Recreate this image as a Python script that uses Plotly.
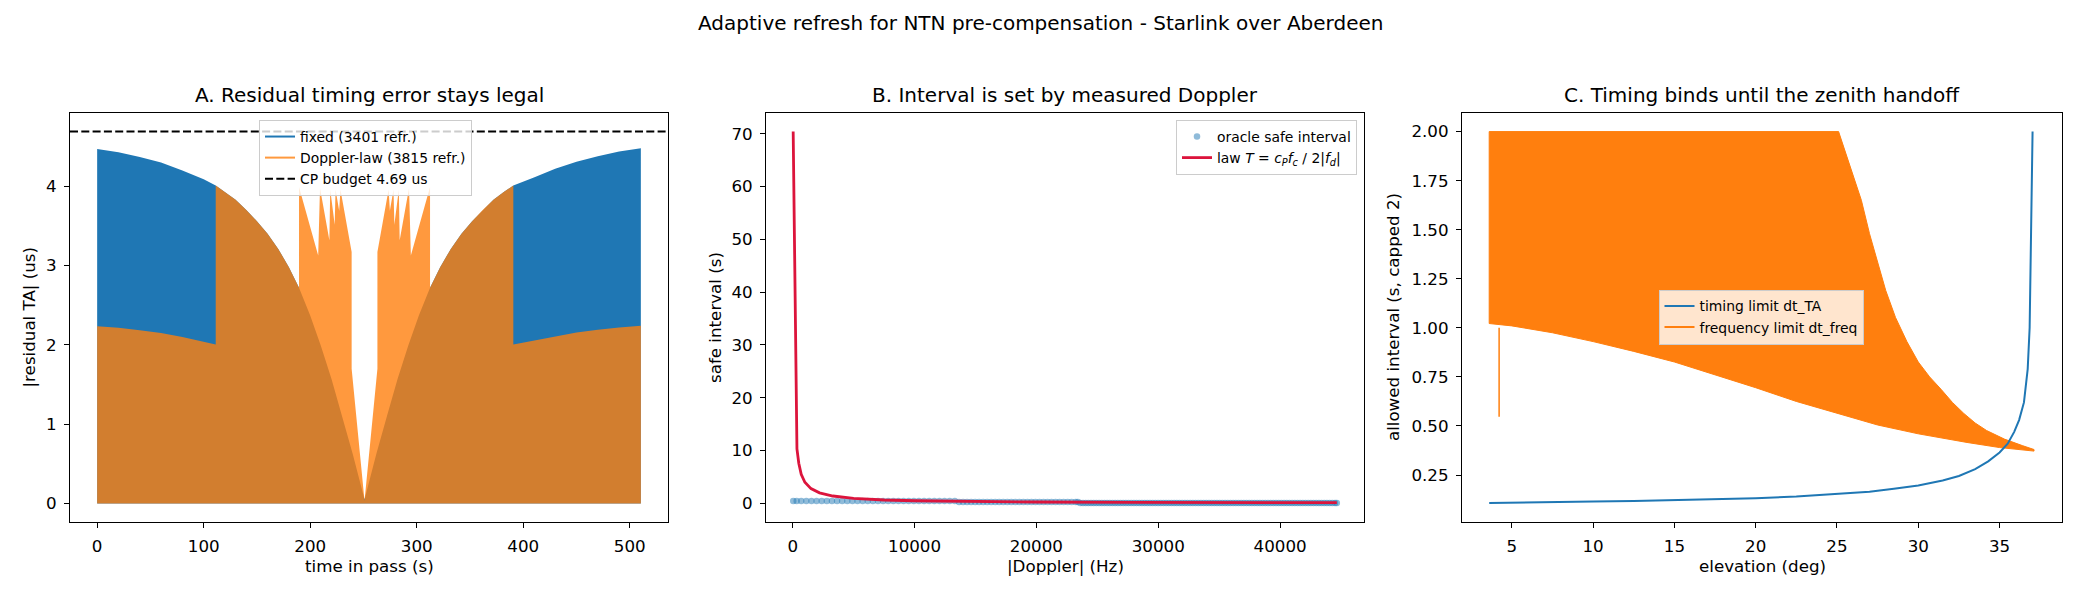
import plotly.graph_objects as go

FONT = "DejaVu Sans"
W, H = 2080, 598

# ---------------- Panel A data ----------------
# upper envelope of the fixed-interval residual sawtooth (us)
t_fixed = [0, 20, 40, 60, 80, 100, 111.3, 120, 130, 140, 150, 160, 170, 180, 189.5,
           200, 210, 220, 230, 240, 251, 262, 272, 282, 292, 302, 312.5, 322, 332,
           342, 352, 362, 372, 382, 390.7, 410, 430, 450, 470, 490, 510.4]
fixed_env = [4.47, 4.43, 4.37, 4.30, 4.20, 4.09, 4.01, 3.93, 3.83, 3.70, 3.56, 3.40,
             3.21, 2.98, 2.72, 2.37, 1.99, 1.57, 1.10, 0.62, 0.05, 0.62, 1.10, 1.57,
             1.99, 2.37, 2.72, 2.98, 3.21, 3.40, 3.56, 3.70, 3.83, 3.93, 4.01, 4.11,
             4.22, 4.31, 4.38, 4.44, 4.48]
# upper envelope of the Doppler-law residual sawtooth (us)
t_law = [0, 20, 40, 60, 80, 100, 111.3, 111.3, 120, 130, 140, 150, 160, 170, 180,
         189.5, 189.5, 207.5, 209.2, 218.0, 218.8, 223.0, 223.8, 227.2, 228.4, 238.9,
         238.9, 251, 263.1, 263.1, 273.6, 274.8, 278.2, 279.0, 283.2, 284.0, 292.8,
         294.5, 312.5, 312.5, 322, 332, 342, 352, 362, 372, 382, 390.7, 390.7, 410,
         430, 450, 470, 490, 510.4]
law_env = [2.235, 2.215, 2.185, 2.15, 2.10, 2.045, 2.005, 4.01, 3.93, 3.83, 3.70, 3.56,
           3.40, 3.21, 2.98, 2.72, 3.99, 3.126, 3.98, 3.32, 3.96, 3.515, 3.96, 3.69,
           3.96, 3.17, 1.70, 0.035, 1.70, 3.17, 3.96, 3.69, 3.96, 3.515, 3.96, 3.32,
           3.98, 3.126, 3.99, 2.72, 2.98, 3.21, 3.40, 3.56, 3.70, 3.83, 3.93, 4.01,
           2.005, 2.055, 2.11, 2.155, 2.19, 2.22, 2.24]
cp_budget = 4.69
n_fixed_refr = 3401
n_law_refr = 3815

# ---------------- Panel B data ----------------
dop_low = [45, 330, 700, 1120, 1540, 1960, 2380, 2800, 3220, 3640, 4060, 4480, 4900,
           5320, 5740, 6160, 6580, 7000, 7420, 7840, 8260, 8680, 9100, 9520, 9940,
           10360, 10780, 11200, 11620, 12040, 12460, 12880, 13300]
dop_mid = [13650, 13980, 14310, 14640, 14970, 15300, 15630, 15960, 16290, 16620, 16950,
           17280, 17610, 17940, 18270, 18600, 18930, 19260, 19590, 19920, 20250, 20580,
           20910, 21240, 21570, 21900, 22230, 22560, 22890, 23220, 23400]
dop_high = [23600, 23820, 24040, 24260, 24480, 24700, 24920, 25140, 25360, 25580, 25800,
            26020, 26240, 26460, 26680, 26900, 27120, 27340, 27560, 27780, 28000, 28220,
            28440, 28660, 28880, 29100, 29320, 29540, 29760, 29980, 30200, 30420, 30640,
            30860, 31080, 31300, 31520, 31740, 31960, 32180, 32400, 32620, 32840, 33060,
            33280, 33500, 33720, 33940, 34160, 34380, 34600, 34820, 35040, 35260, 35480,
            35700, 35920, 36140, 36360, 36580, 36800, 37020, 37240, 37460, 37680, 37900,
            38120, 38340, 38560, 38780, 39000, 39220, 39440, 39660, 39880, 40100, 40320,
            40540, 40760, 40980, 41200, 41420, 41640, 41860, 42080, 42300, 42520, 42740,
            42960, 43180, 43400, 43620, 43840, 44060, 44280, 44500, 44650]
oracle_low, oracle_mid, oracle_high = 0.45, 0.25, 0.10
law_fd = [40, 350, 500, 700, 1000, 1500, 2200, 3300, 5000, 7500, 10000, 14000,
          20000, 28000, 36000, 44650]
law_T = [70.4, 10.3, 7.6, 5.5, 4.0, 2.8, 2.0, 1.4, 0.95, 0.65, 0.5, 0.37,
         0.27, 0.2, 0.16, 0.13]

# ---------------- Panel C data ----------------
elev_ta = [3.61, 5, 7.5, 10, 12.5, 15, 17.5, 20, 22.5, 25, 27, 28.5, 30, 31.5, 32.5,
           33.5, 34.3, 35.0, 35.5, 35.9, 36.2, 36.5, 36.73, 36.85, 36.95, 37.03]
dt_ta = [0.107, 0.108, 0.111, 0.115, 0.118, 0.122, 0.127, 0.132, 0.140, 0.152, 0.165,
         0.180, 0.197, 0.222, 0.245, 0.28, 0.32, 0.365, 0.41, 0.47, 0.53, 0.62, 0.79,
         1.0, 1.45, 2.0]
# dt_freq oscillates between two envelopes (capped at 2)
elev_freq_hi = [3.61, 3.61, 25.1, 25.5, 26.0, 26.5, 27.0, 27.5, 28.0, 28.6, 29.3, 30.0,
                30.7, 31.4, 32.1, 32.8, 33.5, 34.2, 35.3, 36.4, 37.12]
freq_hi = [1.022, 2.0, 2.0, 1.90, 1.78, 1.65, 1.48, 1.33, 1.19, 1.053, 0.93, 0.826,
           0.75, 0.687, 0.62, 0.564, 0.515, 0.477, 0.433, 0.40, 0.38]
elev_freq_lo = [37.12, 35, 33, 30, 27.5, 25, 22.5, 20, 17.5, 15, 12.5, 10, 7.5, 5, 3.61]
freq_lo = [0.372, 0.39, 0.416, 0.46, 0.505, 0.564, 0.625, 0.695, 0.76, 0.826, 0.88,
           0.93, 0.975, 1.01, 1.022]
glitch_elev = [4.22, 4.22]
glitch_val = [1.0, 0.547]

BLUE = "#1f77b4"
ORANGE = "#ff7f0e"

fig = go.Figure()

# Panel A
fig.add_trace(go.Scatter(x=t_fixed, y=fixed_env, mode="lines", line=dict(width=0),
                         fill="tozeroy", fillcolor=BLUE, showlegend=False,
                         hoverinfo="skip", xaxis="x", yaxis="y"))
fig.add_trace(go.Scatter(x=t_law, y=law_env, mode="lines", line=dict(width=0),
                         fill="tozeroy", fillcolor="rgba(255,127,14,0.8)", showlegend=False,
                         hoverinfo="skip", xaxis="x", yaxis="y"))
fig.add_trace(go.Scatter(x=[None], y=[None], mode="lines", line=dict(color=BLUE, width=2),
                         name=f"fixed ({n_fixed_refr} refr.)", legend="legend",
                         xaxis="x", yaxis="y"))
fig.add_trace(go.Scatter(x=[None], y=[None], mode="lines",
                         line=dict(color="rgba(255,127,14,0.8)", width=2),
                         name=f"Doppler-law ({n_law_refr} refr.)", legend="legend",
                         xaxis="x", yaxis="y"))
fig.add_trace(go.Scatter(x=[None], y=[None], mode="lines",
                         line=dict(color="black", width=2, dash="8px,3.3px"),
                         name=f"CP budget {cp_budget} us", legend="legend",
                         xaxis="x", yaxis="y"))

# Panel B
for i, (xs, lev) in enumerate([(dop_low, oracle_low), (dop_mid, oracle_mid), (dop_high, oracle_high)]):
    fig.add_trace(go.Scatter(x=xs, y=[lev] * len(xs), mode="markers",
                             marker=dict(color=BLUE, size=6.5, opacity=0.5, line=dict(width=0)),
                             name="oracle safe interval", showlegend=(i == 0),
                             legend="legend2", xaxis="x2", yaxis="y2", hoverinfo="skip"))
fig.add_trace(go.Scatter(x=law_fd, y=law_T, mode="lines", line=dict(color="crimson", width=2.8),
                         name="law <i>T</i> = <i>c<sub>P</sub>f<sub>c</sub></i> / 2|<i>f<sub>d</sub></i>|",
                         legend="legend2", xaxis="x2", yaxis="y2"))

# Panel C
fig.add_trace(go.Scatter(x=elev_freq_hi + elev_freq_lo, y=freq_hi + freq_lo, mode="lines",
                         line=dict(width=1, color=ORANGE), fill="toself", fillcolor=ORANGE,
                         showlegend=False, hoverinfo="skip", xaxis="x3", yaxis="y3"))
fig.add_trace(go.Scatter(x=glitch_elev, y=glitch_val, mode="lines",
                         line=dict(width=1.5, color=ORANGE), showlegend=False,
                         hoverinfo="skip", xaxis="x3", yaxis="y3"))
fig.add_trace(go.Scatter(x=elev_ta, y=dt_ta, mode="lines", line=dict(color=BLUE, width=2),
                         name="timing limit dt_TA", legend="legend3", xaxis="x3", yaxis="y3"))
fig.add_trace(go.Scatter(x=[None], y=[None], mode="lines", line=dict(color=ORANGE, width=2),
                         name="frequency limit dt_freq", legend="legend3", xaxis="x3", yaxis="y3"))

fig.add_shape(type="line", xref="x domain", x0=0, x1=1, yref="y", y0=cp_budget, y1=cp_budget,
              line=dict(color="black", width=2, dash="8px,3.3px"), layer="above")

ydom = [1 - 522 / H, 1 - 113 / H]
doms = [[70 / W, 668 / W], [766 / W, 1364 / W], [1462 / W, 2062 / W]]
tickfont = dict(family=FONT, size=16.7, color="black")


def ax(dom, rng, anchor, **kw):
    d = dict(domain=dom, range=rng, anchor=anchor, showline=True, mirror=True,
             linecolor="black", linewidth=1.1, ticks="outside", ticklen=5, tickwidth=1.1,
             tickcolor="black", showgrid=False, zeroline=False, tickfont=tickfont,
             automargin=False, ticklabelstandoff=4)
    d.update(kw)
    return d


legfont = dict(family=FONT, size=13.9, color="black")
legstyle = dict(bgcolor="rgba(255,255,255,0.8)", bordercolor="#cccccc", borderwidth=1, font=legfont)

fig.update_layout(
    width=W, height=H, margin=dict(l=0, r=0, t=0, b=0),
    paper_bgcolor="white", plot_bgcolor="white",
    font=dict(family=FONT, color="black"),
    xaxis=ax(doms[0], [-25.5, 535.9], "y", dtick=100),
    yaxis=ax(ydom, [-0.2345, 4.9245], "x", dtick=1),
    xaxis2=ax(doms[1], [-2190, 46880], "y2", dtick=10000, tickformat="d"),
    yaxis2=ax(ydom, [-3.52, 73.92], "x2", dtick=10),
    xaxis3=ax(doms[2], [1.937, 38.84], "y3", dtick=5),
    yaxis3=ax(ydom, [0.0107, 2.0947], "x3", dtick=0.25, tick0=0.25, tickformat=".2f"),
    legend=dict(x=259 / W, y=1 - 120 / H, xanchor="left", yanchor="top", **legstyle),
    legend2=dict(x=1357 / W, y=1 - 120 / H, xanchor="right", yanchor="top", **legstyle),
    legend3=dict(x=1761 / W, y=1 - 317 / H, xanchor="center", yanchor="middle", **legstyle),
)

ann = []
ann.append(dict(text="Adaptive refresh for NTN pre-compensation - Starlink over Aberdeen",
                x=0.5, y=1 - 23 / H, xref="paper", yref="paper", showarrow=False,
                xanchor="center", yanchor="middle", font=dict(family=FONT, size=20, color="black")))
titles = ["A. Residual timing error stays legal", "B. Interval is set by measured Doppler",
          "C. Timing binds until the zenith handoff"]
xlabels = ["time in pass (s)", "|Doppler| (Hz)", "elevation (deg)"]
ylabels = ["|residual TA| (us)", "safe interval (s)", "allowed interval (s, capped 2)"]
ylab_x = [28, 714.5, 1392.6]
for i in range(3):
    cx = (doms[i][0] + doms[i][1]) / 2
    ann.append(dict(text=titles[i], x=cx, y=1 - 95 / H, xref="paper", yref="paper",
                    showarrow=False, xanchor="center", yanchor="middle",
                    font=dict(family=FONT, size=20, color="black")))
    ann.append(dict(text=xlabels[i], x=cx, y=1 - 566 / H, xref="paper", yref="paper",
                    showarrow=False, xanchor="center", yanchor="middle",
                    font=dict(family=FONT, size=16.7, color="black")))
    ann.append(dict(text=ylabels[i], x=ylab_x[i] / W, y=1 - 317.5 / H, xref="paper", yref="paper",
                    showarrow=False, xanchor="center", yanchor="middle", textangle=-90,
                    font=dict(family=FONT, size=16.7, color="black")))
fig.update_layout(annotations=ann)

fig.write_html("out.html")
